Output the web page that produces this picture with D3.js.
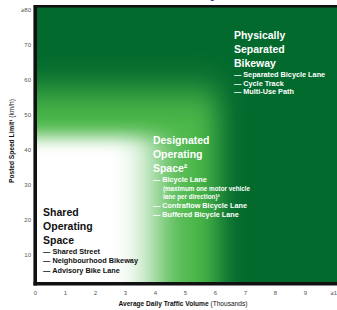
<!DOCTYPE html>
<html>
<head>
<meta charset="utf-8">
<script src="https://cdn.jsdelivr.net/npm/d3@7"></script>
<style>
  body { margin: 0; background: #fff; }
  svg { display: block; font-family: "Liberation Sans", Arial, sans-serif; }
  .tick text { fill: #555; font-size: 6px; }
  .zone-title { font-weight: bold; font-size: 10.5px; }
  .zone-item { font-weight: bold; font-size: 7.3px; }
  .zone-sub { font-weight: bold; font-size: 6.3px; }
</style>
</head>
<body>
<script>
// axis ticks
var xTicks = [0, 1, 2, 3, 4, 5, 6, 7, 8, 9, 10];
var xTickLabels = ["0", "1", "2", "3", "4", "5", "6", "7", "8", "9", "\u226510"];
var yTicks = [10, 20, 30, 40, 50, 60, 70, 80];
var yTickLabels = ["10", "20", "30", "40", "50", "60", "70", "\u226580"];

// zone limits (traffic volume in thousands, speed km/h)
var whiteZone = [4.0, 44];
var greenZone = [6.1, 57];

// zone text
var zoneTitles = [
    ["Shared", "Operating", "Space"],
    ["Designated", "Operating", "Space\u00b2"],
    ["Physically", "Separated", "Bikeway"],
    ];
var zoneItems = [
    ["\u2014 Shared Street", "\u2014 Neighbourhood Bikeway", "\u2014 Advisory Bike Lane"],
    ["\u2014 Bicycle Lane", "(maximum one motor vehicle", "lane per direction)\u00b3",
     "\u2014 Contraflow Bicycle Lane", "\u2014 Buffered Bicycle Lane"],
    ["\u2014 Separated Bicycle Lane", "\u2014 Cycle Track", "\u2014 Multi-Use Path"],
    ];

var W = 337, H = 310;
var darkGreen = "#036a2e", brightGreen = "#4cb748";

var x = d3.scaleLinear().domain([0, 10]).range([35, 335]);
var y = d3.scaleLinear().domain([0, 80]).range([290, 10]);

var svg = d3.select("body").append("svg")
    .attr("width", W)
    .attr("height", H);

var defs = svg.append("defs");
defs.append("clipPath").attr("id", "plotClip")
    .append("rect")
    .attr("x", 36).attr("y", 6)
    .attr("width", W - 36).attr("height", 277);
defs.append("filter").attr("id", "blurWhite")
    .attr("filterUnits", "userSpaceOnUse")
    .attr("x", -200).attr("y", -200).attr("width", 800).attr("height", 800)
    .append("feGaussianBlur").attr("stdDeviation", "20 9");
defs.append("filter").attr("id", "blurGreen")
    .attr("filterUnits", "userSpaceOnUse")
    .attr("x", -200).attr("y", -200).attr("width", 800).attr("height", 800)
    .append("feGaussianBlur").attr("stdDeviation", "13 17");

// title fragment cut off at the top
svg.append("text")
    .attr("x", 210).attr("y", -2.2)
    .style("font-size", "16px").style("font-weight", "bold")
    .attr("fill", "#24408f")
    .text("y");

var plot = svg.append("g").attr("clip-path", "url(#plotClip)");
plot.append("rect")
    .attr("x", 30).attr("y", 0)
    .attr("width", W).attr("height", H)
    .attr("fill", darkGreen);
plot.append("rect")
    .attr("x", x(-3)).attr("y", y(greenZone[1]))
    .attr("width", x(greenZone[0]) - x(-3))
    .attr("height", y(-20) - y(greenZone[1]))
    .attr("fill", brightGreen)
    .attr("filter", "url(#blurGreen)");
plot.append("rect")
    .attr("x", x(-3)).attr("y", y(whiteZone[1]))
    .attr("width", x(whiteZone[0]) - x(-3))
    .attr("height", y(-20) - y(whiteZone[1]))
    .attr("fill", "#fff")
    .attr("filter", "url(#blurWhite)");

// frame
svg.append("line").attr("x1", 34).attr("x2", W).attr("y1", 6.2).attr("y2", 6.2)
    .attr("stroke", "#111").attr("stroke-width", 2.4);
svg.append("line").attr("x1", 35.2).attr("x2", 35.2).attr("y1", 5).attr("y2", 285.5)
    .attr("stroke", "#111").attr("stroke-width", 3.6);
svg.append("line").attr("x1", 33.5).attr("x2", W).attr("y1", 283.8).attr("y2", 283.8)
    .attr("stroke", "#111").attr("stroke-width", 3.4);

// axes
svg.append("g")
    .attr("transform", "translate(0,288)")
    .call(d3.axisBottom(x).tickValues(xTicks).tickSize(0)
        .tickFormat(function(d, i) { return xTickLabels[i]; }))
    .call(function(g) { g.select(".domain").remove(); });
svg.append("g")
    .attr("transform", "translate(31,0)")
    .call(d3.axisLeft(y).tickValues(yTicks).tickSize(0).tickPadding(0)
        .tickFormat(function(d, i) { return yTickLabels[i]; }))
    .call(function(g) { g.select(".domain").remove(); });

var xt = svg.append("text")
    .attr("x", 183).attr("y", 306)
    .attr("text-anchor", "middle")
    .style("font-size", "6.6px").attr("fill", "#111");
xt.append("tspan").style("font-weight", "bold").text("Average Daily Traffic Volume ");
xt.append("tspan").text("(Thousands)");

var yt = svg.append("text")
    .attr("transform", "translate(14,141) rotate(-90)")
    .attr("text-anchor", "middle")
    .style("font-size", "6.6px").attr("fill", "#111");
yt.append("tspan").style("font-weight", "bold").text("Posted Speed Limit\u00b9 ");
yt.append("tspan").text("(km/h)");

// zone labels
var zoneAnchors = [[0.27, 21.2], [3.93, 41.7], [6.63, 71.7]];
var zoneColors = ["#111", "#fff", "#fff"];
var titleStep = 14, itemStart = 10, itemStep = [9.6, 8.7, 8.5];

zoneTitles.forEach(function(titles, z) {
    var g = svg.append("g")
        .attr("transform", "translate(" + x(zoneAnchors[z][0]) + "," + y(zoneAnchors[z][1]) + ")")
        .attr("fill", zoneColors[z]);
    g.selectAll("text.zone-title")
        .data(titles)
        .enter().append("text")
        .attr("class", "zone-title")
        .attr("y", function(d, i) { return i * titleStep; })
        .text(function(d) { return d; });
    var top = (titles.length - 1) * titleStep + itemStart;
    g.selectAll("text.zone-item")
        .data(zoneItems[z])
        .enter().append("text")
        .attr("class", function(d) { return d.charAt(0) == "\u2014" ? "zone-item" : "zone-sub"; })
        .attr("x", function(d) { return d.charAt(0) == "\u2014" ? 0 : 10; })
        .attr("y", function(d, i) { return top + i * itemStep[z]; })
        .text(function(d) { return d; });
});
</script>
</body>
</html>
